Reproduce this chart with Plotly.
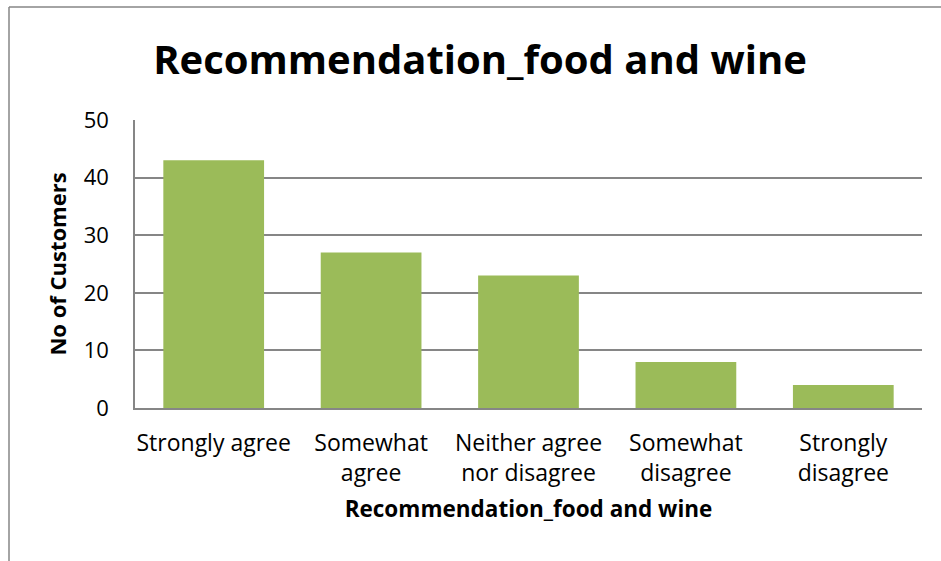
import plotly.graph_objects as go

categories = ["Strongly agree", "Somewhat<br>agree", "Neither agree<br>nor disagree",
              "Somewhat<br>disagree", "Strongly<br>disagree"]
customers = [43, 27, 23, 8, 4]
y_ticks = [0, 10, 20, 30, 40, 50]

W, H = 941, 561
L, R, T, B = 135, 19, 120, 153
pw, ph = W - L - R, H - T - B

def px_x(p):
    return (p - L) / pw

def px_y(p):
    return (H - B - p) / ph

font_family = "Open Sans, sans-serif"
grey = "#868686"

fig = go.Figure(go.Bar(
    x=categories, y=customers,
    marker=dict(color="#9BBB59", line=dict(width=0)),
    width=0.64,
))

fig.update_layout(
    width=W, height=H,
    margin=dict(l=L, r=R, t=T, b=B),
    paper_bgcolor="white", plot_bgcolor="white",
    font=dict(family=font_family, size=22, color="black"),
    title=dict(text="<b>Recommendation_food and wine</b>",
               x=480 / W, xanchor="center", y=1 - 60 / H, yanchor="middle",
               xref="container", yref="container",
               font=dict(size=40, family=font_family, color="black")),
    showlegend=False,
    bargap=0.36,
)

fig.update_xaxes(
    showline=True, linecolor=grey, linewidth=1.5, mirror=False,
    ticks="", showgrid=False,
    title=dict(text="<b>Recommendation_food and wine</b>",
               font=dict(size=22.5, family=font_family), standoff=14),
    tickfont=dict(size=23), ticklabelstandoff=14,
)
fig.update_yaxes(
    range=[0, 50], tickvals=y_ticks, showline=True, linecolor=grey, linewidth=1.5,
    gridcolor=grey, gridwidth=1.5, ticks="", zeroline=False,
    title=dict(text="<b>No of Customers</b>",
               font=dict(size=22, family=font_family), standoff=11),
    tickfont=dict(size=22), ticklabelstandoff=20,
)

# outer chart frame (top and left edges)
fig.add_shape(type="line", xref="paper", yref="paper",
              x0=px_x(9), x1=px_x(W + 5), y0=px_y(7), y1=px_y(7),
              line=dict(color=grey, width=1.5))
fig.add_shape(type="line", xref="paper", yref="paper",
              x0=px_x(9), x1=px_x(9), y0=px_y(7), y1=px_y(H + 5),
              line=dict(color=grey, width=1.5))

fig.write_html("out.html")
